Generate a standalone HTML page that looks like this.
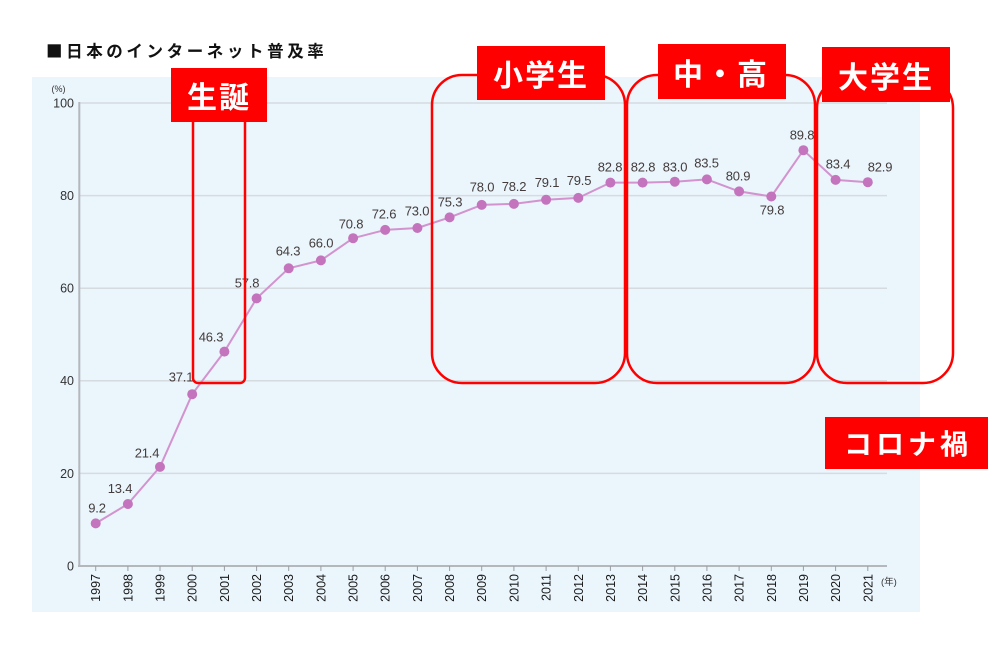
<!DOCTYPE html>
<html>
<head>
<meta charset="utf-8">
<style>
html,body{margin:0;padding:0;background:#fff;}
svg{display:block;}
.t{font-family:"Liberation Sans","Noto Sans CJK JP",sans-serif;}
.j{font-family:"Liberation Sans","Noto Sans CJK JP",sans-serif;}
.c{font-family:"Noto Sans CJK JP",sans-serif;}
</style>
</head>
<body>
<svg width="1000" height="649" viewBox="0 0 1000 649" xmlns="http://www.w3.org/2000/svg">
  <rect x="0" y="0" width="1000" height="649" fill="#ffffff"/>
  <!-- title -->
  <text class="c" x="46" y="57" font-size="16.5" font-weight="bold" letter-spacing="3.6" fill="#111">■日本のインターネット普及率</text>
  <!-- panel -->
  <rect x="32" y="77" width="888" height="535" fill="#eaf5fc"/>
  <!-- gridlines -->
  <g stroke="#d6dbe0" stroke-width="1.5">
    <line x1="79" y1="103" x2="887" y2="103"/>
    <line x1="79" y1="195.6" x2="887" y2="195.6"/>
    <line x1="79" y1="288.2" x2="887" y2="288.2"/>
    <line x1="79" y1="380.8" x2="887" y2="380.8"/>
    <line x1="79" y1="473.4" x2="887" y2="473.4"/>
  </g>
  <!-- axes -->
  <line x1="79.3" y1="102" x2="79.3" y2="567" stroke="#b4b8bc" stroke-width="2"/>
  <line x1="78" y1="566" x2="887" y2="566" stroke="#b4b8bc" stroke-width="2"/>
  <g stroke="#9a9ea2" stroke-width="1">
    <line x1="95.7" y1="566" x2="95.7" y2="571"/><line x1="127.9" y1="566" x2="127.9" y2="571"/>
    <line x1="160.0" y1="566" x2="160.0" y2="571"/><line x1="192.2" y1="566" x2="192.2" y2="571"/>
    <line x1="224.4" y1="566" x2="224.4" y2="571"/><line x1="256.6" y1="566" x2="256.6" y2="571"/>
    <line x1="288.7" y1="566" x2="288.7" y2="571"/><line x1="320.9" y1="566" x2="320.9" y2="571"/>
    <line x1="353.1" y1="566" x2="353.1" y2="571"/><line x1="385.2" y1="566" x2="385.2" y2="571"/>
    <line x1="417.4" y1="566" x2="417.4" y2="571"/><line x1="449.6" y1="566" x2="449.6" y2="571"/>
    <line x1="481.7" y1="566" x2="481.7" y2="571"/><line x1="513.9" y1="566" x2="513.9" y2="571"/>
    <line x1="546.1" y1="566" x2="546.1" y2="571"/><line x1="578.3" y1="566" x2="578.3" y2="571"/>
    <line x1="610.4" y1="566" x2="610.4" y2="571"/><line x1="642.6" y1="566" x2="642.6" y2="571"/>
    <line x1="674.8" y1="566" x2="674.8" y2="571"/><line x1="706.9" y1="566" x2="706.9" y2="571"/>
    <line x1="739.1" y1="566" x2="739.1" y2="571"/><line x1="771.3" y1="566" x2="771.3" y2="571"/>
    <line x1="803.4" y1="566" x2="803.4" y2="571"/><line x1="835.6" y1="566" x2="835.6" y2="571"/>
    <line x1="867.8" y1="566" x2="867.8" y2="571"/>
  </g>
  <!-- y labels -->
  <g class="t" font-size="12.5" fill="#333" text-anchor="end">
    <text x="74" y="107.5">100</text>
    <text x="74" y="200">80</text>
    <text x="74" y="292.5">60</text>
    <text x="74" y="385">40</text>
    <text x="74" y="478">20</text>
    <text x="74" y="570.5">0</text>
  </g>
  <text class="t" x="58.5" y="92" font-size="9" fill="#333" text-anchor="middle">(%)</text>
  <!-- x labels -->
  <g class="t" font-size="12.5" fill="#1a1a1a" text-anchor="end">
    <text transform="translate(100.2,574) rotate(-90)">1997</text>
    <text transform="translate(132.4,574) rotate(-90)">1998</text>
    <text transform="translate(164.5,574) rotate(-90)">1999</text>
    <text transform="translate(196.7,574) rotate(-90)">2000</text>
    <text transform="translate(228.9,574) rotate(-90)">2001</text>
    <text transform="translate(261.1,574) rotate(-90)">2002</text>
    <text transform="translate(293.2,574) rotate(-90)">2003</text>
    <text transform="translate(325.4,574) rotate(-90)">2004</text>
    <text transform="translate(357.6,574) rotate(-90)">2005</text>
    <text transform="translate(389.7,574) rotate(-90)">2006</text>
    <text transform="translate(421.9,574) rotate(-90)">2007</text>
    <text transform="translate(454.1,574) rotate(-90)">2008</text>
    <text transform="translate(486.2,574) rotate(-90)">2009</text>
    <text transform="translate(518.4,574) rotate(-90)">2010</text>
    <text transform="translate(550.6,574) rotate(-90)">2011</text>
    <text transform="translate(582.8,574) rotate(-90)">2012</text>
    <text transform="translate(614.9,574) rotate(-90)">2013</text>
    <text transform="translate(647.1,574) rotate(-90)">2014</text>
    <text transform="translate(679.3,574) rotate(-90)">2015</text>
    <text transform="translate(711.4,574) rotate(-90)">2016</text>
    <text transform="translate(743.6,574) rotate(-90)">2017</text>
    <text transform="translate(775.8,574) rotate(-90)">2018</text>
    <text transform="translate(807.9,574) rotate(-90)">2019</text>
    <text transform="translate(840.1,574) rotate(-90)">2020</text>
    <text transform="translate(872.3,574) rotate(-90)">2021</text>
  </g>
  <text class="j" x="881" y="585" font-size="9.5" fill="#333">(年)</text>
  <!-- series -->
  <polyline fill="none" stroke="#d293cf" stroke-width="2" stroke-linejoin="round"
    points="95.7,523.4 127.9,504.0 160.0,466.9 192.2,394.2 224.4,351.6 256.6,298.4 288.7,268.3 320.9,260.4 353.1,238.2 385.2,229.9 417.4,228.0 449.6,217.4 481.7,204.9 513.9,203.9 546.1,199.8 578.3,197.9 610.4,182.6 642.6,182.6 674.8,181.7 706.9,179.4 739.1,191.4 771.3,196.5 803.4,150.2 835.6,179.9 867.8,182.2"/>
  <g fill="#c374bd">
    <circle cx="95.7" cy="523.4" r="5"/><circle cx="127.9" cy="504.0" r="5"/>
    <circle cx="160.0" cy="466.9" r="5"/><circle cx="192.2" cy="394.2" r="5"/>
    <circle cx="224.4" cy="351.6" r="5"/><circle cx="256.6" cy="298.4" r="5"/>
    <circle cx="288.7" cy="268.3" r="5"/><circle cx="320.9" cy="260.4" r="5"/>
    <circle cx="353.1" cy="238.2" r="5"/><circle cx="385.2" cy="229.9" r="5"/>
    <circle cx="417.4" cy="228.0" r="5"/><circle cx="449.6" cy="217.4" r="5"/>
    <circle cx="481.7" cy="204.9" r="5"/><circle cx="513.9" cy="203.9" r="5"/>
    <circle cx="546.1" cy="199.8" r="5"/><circle cx="578.3" cy="197.9" r="5"/>
    <circle cx="610.4" cy="182.6" r="5"/><circle cx="642.6" cy="182.6" r="5"/>
    <circle cx="674.8" cy="181.7" r="5"/><circle cx="706.9" cy="179.4" r="5"/>
    <circle cx="739.1" cy="191.4" r="5"/><circle cx="771.3" cy="196.5" r="5"/>
    <circle cx="803.4" cy="150.2" r="5"/><circle cx="835.6" cy="179.9" r="5"/>
    <circle cx="867.8" cy="182.2" r="5"/>
  </g>
  <!-- data labels -->
  <g class="t" font-size="13" fill="#443c3c" text-anchor="middle" letter-spacing="-0.2">
    <text x="97" y="512.5">9.2</text>
    <text x="120" y="493">13.4</text>
    <text x="147" y="457.5">21.4</text>
    <text x="181" y="381.5">37.1</text>
    <text x="211" y="341.5">46.3</text>
    <text x="247" y="287.5">57.8</text>
    <text x="288" y="255.5">64.3</text>
    <text x="321" y="247.5">66.0</text>
    <text x="351" y="228.5">70.8</text>
    <text x="384" y="218.5">72.6</text>
    <text x="417" y="215.5">73.0</text>
    <text x="450" y="206.5">75.3</text>
    <text x="482" y="191.5">78.0</text>
    <text x="514" y="191">78.2</text>
    <text x="547" y="187">79.1</text>
    <text x="579" y="185">79.5</text>
    <text x="610" y="171.5">82.8</text>
    <text x="643" y="171.5">82.8</text>
    <text x="675" y="171.5">83.0</text>
    <text x="706.5" y="167.5">83.5</text>
    <text x="738" y="180.5">80.9</text>
    <text x="772" y="214.5">79.8</text>
    <text x="802" y="139.5">89.8</text>
    <text x="838" y="168.5">83.4</text>
    <text x="880" y="171.5">82.9</text>
  </g>
  <!-- red rounded rects -->
  <g fill="none" stroke="#ff0000" stroke-width="2.5">
    <rect x="193" y="100" width="52" height="283" rx="5" ry="5"/>
    <rect x="432" y="75" width="193" height="308" rx="30" ry="30"/>
    <rect x="627" y="75" width="188" height="308" rx="30" ry="30"/>
    <rect x="817" y="78" width="136" height="305" rx="30" ry="30"/>
  </g>
  <!-- red labels -->
  <g fill="#ff0000">
    <rect x="171" y="68" width="96" height="54"/>
    <rect x="477" y="46" width="128" height="54"/>
    <rect x="658" y="44" width="128" height="55"/>
    <rect x="822" y="47" width="128" height="55"/>
    <rect x="825" y="417" width="163" height="52"/>
  </g>
  <g class="j" fill="#ffffff" font-weight="bold" text-anchor="middle">
    <text x="219" y="108" font-size="30" letter-spacing="2">生誕</text>
    <text x="541" y="86" font-size="30" letter-spacing="2">小学生</text>
    <text x="721" y="85" font-size="30" letter-spacing="2">中・高</text>
    <text x="886" y="88" font-size="30" letter-spacing="2">大学生</text>
    <text x="908" y="454" font-size="28" letter-spacing="4">コロナ禍</text>
  </g>
</svg>
</body>
</html>
